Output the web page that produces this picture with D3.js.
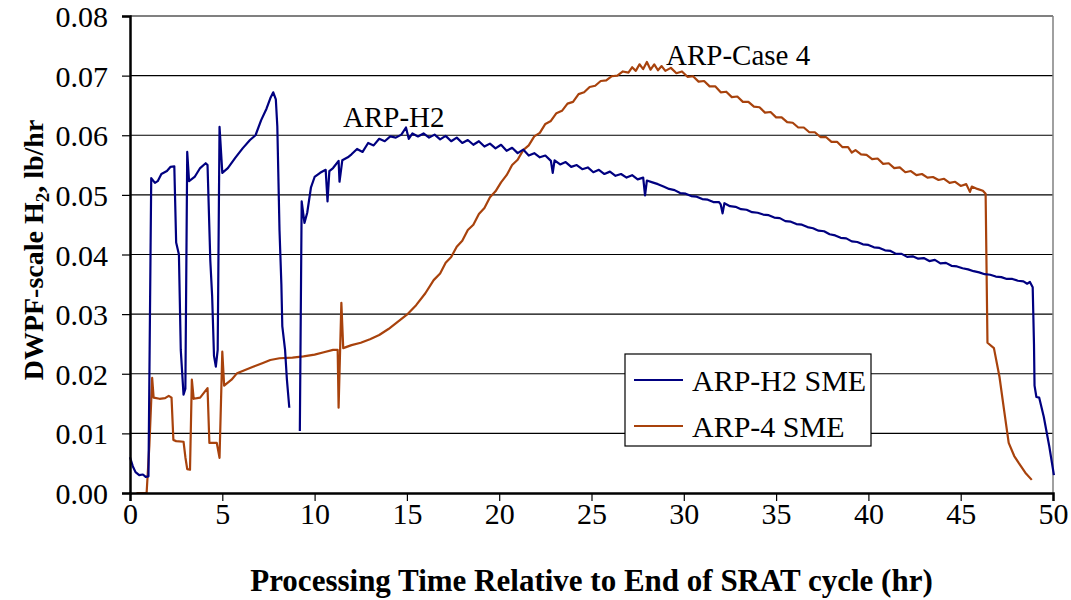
<!DOCTYPE html>
<html>
<head>
<meta charset="utf-8">
<script src="https://cdn.jsdelivr.net/npm/d3@7"></script>
<style>
  body { margin: 0; background: #fff; }
  text { font-family: "Liberation Serif", "Times New Roman", serif; }
</style>
</head>
<body>
<svg id="chart" width="1071" height="600"></svg>
<script>
// ARP-H2 SME: [hr, lb/hr], null marks the break in the record
const arpH2 = [
  [0.0, 0.0060], [0.15, 0.0045], [0.3, 0.0035], [0.5, 0.0030], [0.7, 0.0031], [0.85, 0.0027], [1.0, 0.0028],
  [1.15, 0.0528], [1.35, 0.0520], [1.5, 0.0523], [1.7, 0.0535], [2.0, 0.0540], [2.2, 0.0547], [2.4, 0.0548],
  [2.5, 0.0420], [2.65, 0.0400], [2.75, 0.0240], [2.9, 0.0165], [3.0, 0.0175],
  [3.1, 0.0572], [3.2, 0.0523], [3.5, 0.0530], [3.8, 0.0545], [4.1, 0.0553], [4.2, 0.0550],
  [4.35, 0.0390], [4.45, 0.0330], [4.55, 0.0230], [4.65, 0.0212], [4.75, 0.0240],
  [4.85, 0.0614], [5.0, 0.0537], [5.3, 0.0545], [5.7, 0.0562], [6.1, 0.0578], [6.5, 0.0592], [6.8, 0.0600],
  [7.1, 0.0625], [7.4, 0.0645], [7.6, 0.0662], [7.76, 0.0672], [7.9, 0.0660], [7.98, 0.0615],
  [8.1, 0.0440], [8.2, 0.0350], [8.25, 0.0280], [8.4, 0.0240], [8.5, 0.0190], [8.63, 0.0143],
  null,
  [9.2, 0.0104], [9.3, 0.0489], [9.45, 0.0453], [9.6, 0.0470], [9.8, 0.0512], [10.0, 0.0530], [10.3, 0.0537],
  [10.6, 0.0542], [10.7, 0.0489], [10.8, 0.0540], [11.0, 0.0545], [11.3, 0.0557], [11.35, 0.0522], [11.5, 0.0558],
  [11.8, 0.0563], [12.0, 0.0568], [12.3, 0.0577], [12.6, 0.0572], [12.9, 0.0587], [13.2, 0.0583], [13.5, 0.0594],
  [13.8, 0.0590], [14.1, 0.0598], [14.4, 0.0596], [14.7, 0.0601], [14.95, 0.0613], [15.1, 0.0594], [15.3, 0.0603],
  [15.6, 0.0598], [15.9, 0.0603], [16.2, 0.0596], [16.5, 0.0601], [16.8, 0.0593], [17.1, 0.0599], [17.4, 0.0590],
  [17.7, 0.0596], [18.0, 0.0587], [18.3, 0.0592], [18.6, 0.0584], [18.9, 0.0590], [19.2, 0.0581], [19.5, 0.0586],
  [19.8, 0.0578], [20.1, 0.0584], [20.4, 0.0574], [20.7, 0.0579], [21.0, 0.0570], [21.3, 0.0576], [21.6, 0.0566],
  [21.9, 0.0570], [22.2, 0.0563], [22.5, 0.0566], [22.8, 0.0557], [22.9, 0.0537], [23.0, 0.0558], [23.3, 0.0551],
  [23.6, 0.0555], [23.9, 0.0547], [24.2, 0.0550], [24.5, 0.0543], [24.8, 0.0546], [25.1, 0.0538], [25.4, 0.0542],
  [25.7, 0.0535], [26.0, 0.0539], [26.3, 0.0532], [26.6, 0.0535], [26.9, 0.0529], [27.2, 0.0533], [27.5, 0.0526],
  [27.8, 0.0529], [27.9, 0.0499], [28.0, 0.0524], [28.3, 0.0521], [28.6, 0.0518], [28.9, 0.0514], [29.2, 0.0510],
  [29.5, 0.0508], [29.8, 0.0503], [30.1, 0.0502], [30.4, 0.0498], [30.7, 0.0497], [31.0, 0.0493], [31.3, 0.0492],
  [31.6, 0.0488], [31.9, 0.0488], [32.0, 0.0484], [32.1, 0.0469], [32.2, 0.0486], [32.5, 0.0481], [32.8, 0.0480],
  [33.1, 0.0476], [33.4, 0.0475], [33.7, 0.0471], [34.0, 0.0470], [34.3, 0.0467], [34.6, 0.0466], [34.9, 0.0462],
  [35.2, 0.0461], [35.5, 0.0456], [35.8, 0.0455], [36.1, 0.0451], [36.4, 0.0450], [36.7, 0.0446], [37.0, 0.0444],
  [37.3, 0.0440], [37.6, 0.0439], [37.9, 0.0434], [38.2, 0.0432], [38.5, 0.0428], [38.8, 0.0427], [39.1, 0.0422],
  [39.4, 0.0421], [39.7, 0.0417], [40.0, 0.0416], [40.3, 0.0412], [40.6, 0.0411], [40.9, 0.0407], [41.2, 0.0406],
  [41.5, 0.0401], [41.8, 0.0401], [42.1, 0.0396], [42.4, 0.0397], [42.7, 0.0393], [43.0, 0.0394], [43.3, 0.0389],
  [43.6, 0.0391], [43.9, 0.0385], [44.2, 0.0386], [44.5, 0.0381], [44.8, 0.0380], [45.1, 0.0377], [45.4, 0.0375],
  [45.7, 0.0372], [46.0, 0.0370], [46.3, 0.0367], [46.6, 0.0366], [46.9, 0.0363], [47.2, 0.0362], [47.5, 0.0359],
  [47.8, 0.0359], [48.1, 0.0356], [48.4, 0.0355], [48.6, 0.0351], [48.75, 0.0354], [48.9, 0.0345],
  [48.97, 0.0250], [49.0, 0.0180], [49.1, 0.0161], [49.25, 0.0160], [49.5, 0.0128], [49.8, 0.0078], [50.05, 0.0030]
];

// ARP-4 SME
const arp4 = [
  [0.35, 0.0], [0.9, 0.0], [1.05, 0.0080], [1.2, 0.0193], [1.28, 0.0160], [1.6, 0.0158], [1.9, 0.0159],
  [2.1, 0.0163], [2.25, 0.0160], [2.35, 0.0089], [2.5, 0.0087], [2.9, 0.0086], [3.0, 0.0060], [3.1, 0.0040],
  [3.25, 0.0039], [3.35, 0.0190], [3.45, 0.0158], [3.8, 0.0160], [4.2, 0.0176], [4.3, 0.0084], [4.7, 0.0084],
  [4.85, 0.0059], [5.0, 0.0237], [5.1, 0.0180], [5.5, 0.0190], [5.8, 0.0201], [6.2, 0.0206], [6.7, 0.0212],
  [7.2, 0.0218], [7.6, 0.0223], [8.1, 0.0226], [8.8, 0.0227], [9.4, 0.0229], [10.0, 0.0232], [10.5, 0.0236],
  [11.0, 0.0240], [11.25, 0.0240], [11.3, 0.0143], [11.45, 0.0319], [11.55, 0.0243], [12.0, 0.0248],
  [12.5, 0.0252], [13.0, 0.0258], [13.5, 0.0265], [14.0, 0.0275], [14.5, 0.0287], [15.0, 0.0299],
  [15.5, 0.0315], [16.0, 0.0335], [16.45, 0.0357], [16.8, 0.0368], [17.1, 0.0386], [17.4, 0.0396],
  [17.7, 0.0413], [18.0, 0.0423], [18.3, 0.0441], [18.6, 0.0450], [18.9, 0.0468], [19.2, 0.0478],
  [19.5, 0.0496], [19.8, 0.0506], [20.1, 0.0521], [20.4, 0.0533], [20.7, 0.0550], [21.0, 0.0559],
  [21.3, 0.0575], [21.6, 0.0583], [21.9, 0.0598], [22.2, 0.0604], [22.5, 0.0619], [22.8, 0.0624],
  [23.1, 0.0637], [23.4, 0.0641], [23.7, 0.0653], [24.0, 0.0656], [24.3, 0.0669], [24.6, 0.0672],
  [24.9, 0.0681], [25.2, 0.0683], [25.5, 0.0691], [25.8, 0.0692], [26.1, 0.0699], [26.4, 0.0700],
  [26.7, 0.0707], [27.0, 0.0705], [27.2, 0.0714], [27.4, 0.0708], [27.6, 0.0719], [27.8, 0.0711],
  [28.0, 0.0723], [28.2, 0.0710], [28.4, 0.0719], [28.6, 0.0709], [28.8, 0.0716], [29.0, 0.0708],
  [29.3, 0.0713], [29.6, 0.0704], [29.9, 0.0707], [30.2, 0.0698], [30.5, 0.0699], [30.8, 0.0690],
  [31.1, 0.0691], [31.4, 0.0682], [31.7, 0.0682], [32.0, 0.0672], [32.3, 0.0673], [32.6, 0.0664],
  [32.9, 0.0665], [33.2, 0.0656], [33.5, 0.0656], [33.8, 0.0648], [34.1, 0.0647], [34.4, 0.0638],
  [34.7, 0.0639], [35.0, 0.0630], [35.3, 0.0630], [35.6, 0.0622], [35.9, 0.0621], [36.2, 0.0613],
  [36.5, 0.0613], [36.8, 0.0605], [37.1, 0.0605], [37.4, 0.0597], [37.7, 0.0597], [38.0, 0.0589],
  [38.3, 0.0589], [38.6, 0.0580], [38.9, 0.0580], [39.1, 0.0571], [39.3, 0.0575], [39.6, 0.0568],
  [39.9, 0.0567], [40.2, 0.0560], [40.5, 0.0561], [40.8, 0.0552], [41.1, 0.0553], [41.4, 0.0545],
  [41.7, 0.0546], [42.0, 0.0538], [42.3, 0.0540], [42.6, 0.0533], [42.9, 0.0535], [43.2, 0.0529],
  [43.5, 0.0530], [43.8, 0.0525], [44.1, 0.0527], [44.4, 0.0520], [44.7, 0.0522], [45.0, 0.0515],
  [45.3, 0.0518], [45.5, 0.0505], [45.6, 0.0514], [45.9, 0.0510], [46.2, 0.0507], [46.35, 0.0502],
  [46.45, 0.0252], [46.8, 0.0243], [47.1, 0.0195], [47.35, 0.0139], [47.6, 0.0084], [47.9, 0.0062],
  [48.15, 0.0050], [48.5, 0.0034], [48.85, 0.0022]
];

const xTicks = [0, 5, 10, 15, 20, 25, 30, 35, 40, 45, 50];
const yTicks = [0, 0.01, 0.02, 0.03, 0.04, 0.05, 0.06, 0.07, 0.08];

const blue = "#000080";
const brown = "#A8420C";

const margin = { top: 16, right: 18, bottom: 107, left: 130 };
const width = 1071 - margin.left - margin.right;
const height = 600 - margin.top - margin.bottom;

const svg = d3.select("#chart");
const g = svg.append("g").attr("transform", `translate(${margin.left},${margin.top})`);

const x = d3.scaleLinear().domain([0, 50]).range([0, width]);
const y = d3.scaleLinear().domain([0, 0.08]).range([height, 0]);

// gridlines
g.append("g")
  .selectAll("line")
  .data(yTicks.slice(1))
  .join("line")
  .attr("x1", 0).attr("x2", width)
  .attr("y1", d => y(d)).attr("y2", d => y(d))
  .attr("stroke", d => d === 0.08 ? "#808080" : "#000")
  .attr("stroke-width", d => d === 0.08 ? 2 : 1.2);

// right border
g.append("line")
  .attr("x1", width).attr("x2", width)
  .attr("y1", 0).attr("y2", height)
  .attr("stroke", "#808080").attr("stroke-width", 1.5);

const line = d3.line()
  .defined(d => d !== null)
  .x(d => x(d[0]))
  .y(d => y(d[1]));

g.append("path").datum(arp4)
  .attr("fill", "none").attr("stroke", brown).attr("stroke-width", 2.2)
  .attr("stroke-linejoin", "round")
  .attr("d", line);

g.append("path").datum(arpH2)
  .attr("fill", "none").attr("stroke", blue).attr("stroke-width", 2.2)
  .attr("stroke-linejoin", "round")
  .attr("d", line);

// axes
const xAxis = g.append("g")
  .attr("transform", `translate(0,${height})`)
  .call(d3.axisBottom(x).tickValues(xTicks).tickSize(8).tickPadding(2).tickFormat(d3.format("d")));
const yAxis = g.append("g")
  .call(d3.axisLeft(y).tickValues(yTicks).tickSize(8).tickPadding(14).tickFormat(d3.format(".2f")));

[xAxis, yAxis].forEach(a => {
  a.select(".domain").attr("stroke", "#000").attr("stroke-width", 2.5);
  a.selectAll(".tick line").attr("stroke", "#000").attr("stroke-width", 1.2);
  a.selectAll(".tick text")
    .attr("fill", "#000")
    .style("font-family", '"Liberation Serif", serif')
    .style("font-size", "30px");
});
yAxis.selectAll(".tick text").attr("dy", "0.35em");

// axis titles
svg.append("text")
  .attr("x", margin.left + width / 2)
  .attr("y", 591)
  .attr("text-anchor", "middle")
  .style("font-weight", "bold")
  .style("font-size", "31px")
  .text("Processing Time Relative to End of SRAT cycle (hr)");

const yTitle = svg.append("text")
  .attr("transform", "translate(43,250) rotate(-90)")
  .attr("text-anchor", "middle")
  .style("font-weight", "bold")
  .style("font-size", "28px");
yTitle.append("tspan").text("DWPF-scale H");
yTitle.append("tspan").attr("font-size", "19px").attr("dy", "6").text("2");
yTitle.append("tspan").attr("dy", "-6").text(", lb/hr");

// curve labels
svg.append("text")
  .attr("x", 343).attr("y", 127)
  .style("font-size", "29px")
  .text("ARP-H2");
svg.append("text")
  .attr("x", 666).attr("y", 65)
  .style("font-size", "29px")
  .text("ARP-Case 4");

// legend
const legendItems = [
  { name: "ARP-H2 SME", color: blue },
  { name: "ARP-4 SME", color: brown }
];
const legend = svg.append("g").attr("transform", "translate(625,354)");
legend.append("rect")
  .attr("width", 246).attr("height", 92)
  .attr("fill", "#fff").attr("stroke", "#000").attr("stroke-width", 1.2);
const li = legend.selectAll("g.item")
  .data(legendItems)
  .join("g")
  .attr("class", "item")
  .attr("transform", (d, i) => `translate(0,${26 + i * 46})`);
li.append("line")
  .attr("x1", 9).attr("x2", 58)
  .attr("stroke", d => d.color).attr("stroke-width", 2);
li.append("text")
  .attr("x", 67).attr("y", 11)
  .style("font-size", "30px")
  .text(d => d.name);
</script>
</body>
</html>
